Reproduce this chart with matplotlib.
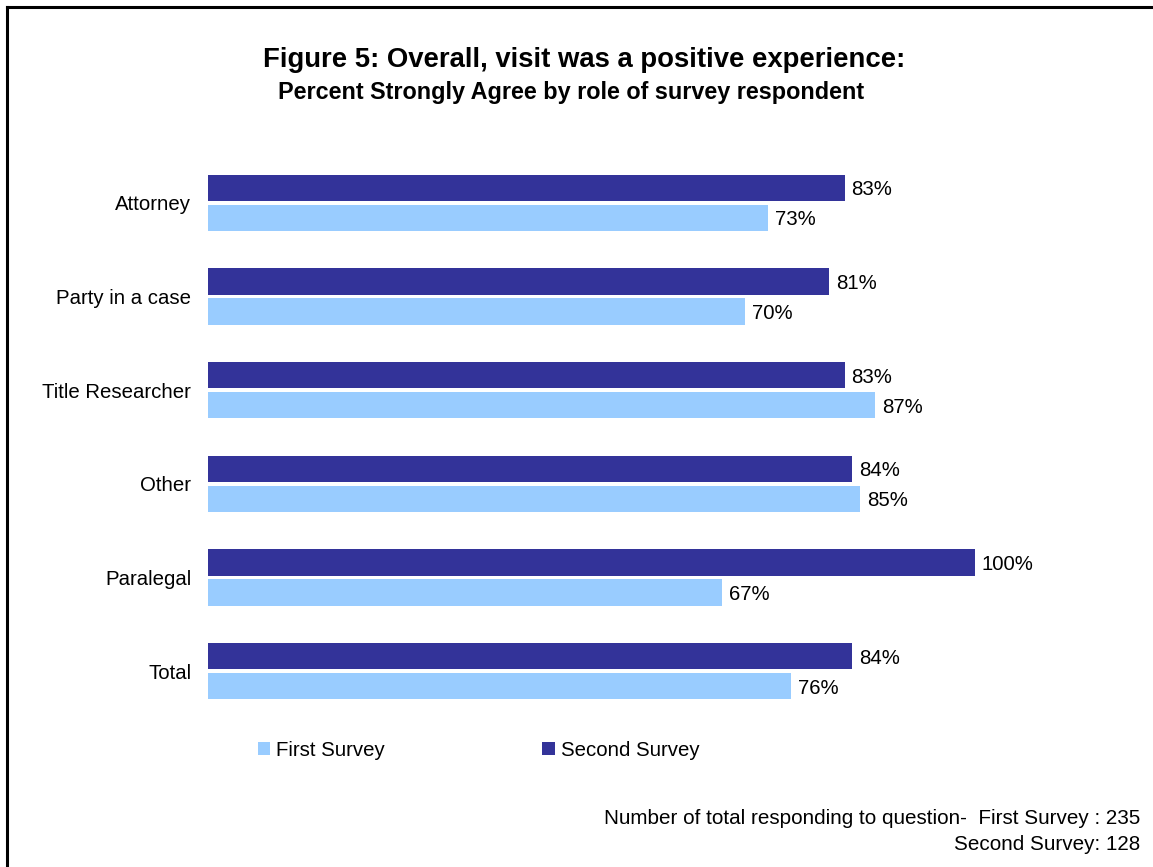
import matplotlib
matplotlib.use("Agg")
import matplotlib.pyplot as plt
from matplotlib.lines import Line2D
from matplotlib.patches import Patch

categories = ["Attorney", "Party in a case", "Title Researcher", "Other", "Paralegal", "Total"]
first_survey = [73, 70, 87, 85, 67, 76]
second_survey = [83, 81, 83, 84, 100, 84]
series_names = ["First Survey", "Second Survey"]
title = "Figure 5: Overall, visit was a positive experience:"
subtitle = "Percent Strongly Agree by role of survey respondent"
footnote = ["Number of total responding to question-  First Survey : 235", "Second Survey: 128"]

plt.rcParams['font.family'] = ['Liberation Sans', 'DejaVu Sans']

W, H = 1153, 867
fig = plt.figure(figsize=(W / 100, H / 100), dpi=100)
fig.patch.set_facecolor("white")

dark = "#333399"
light = "#99CCFF"
fs = 14.7

ax = fig.add_axes([208 / W, 149 / H, 767 / W, 562 / H])
ys = list(range(len(categories)))
bh = 0.278
off = 0.16
ax.barh([y - off for y in ys], second_survey, height=bh, color=dark)
ax.barh([y + off for y in ys], first_survey, height=bh, color=light)
for y, v in zip(ys, second_survey):
    ax.text(v + 0.9, y - off, f"{v}%", va="center_baseline", ha="left", fontsize=fs)
for y, v in zip(ys, first_survey):
    ax.text(v + 0.9, y + off, f"{v}%", va="center_baseline", ha="left", fontsize=fs)
ax.set_xlim(0, 100)
ax.set_ylim(len(categories) - 0.5, -0.5)
ax.set_yticks(ys)
ax.set_yticklabels(categories, fontsize=fs, va="center_baseline")
ax.tick_params(axis="y", length=0, pad=12)
ax.set_xticks([])
for s in ax.spines.values():
    s.set_visible(False)

fig.text(584 / W, 1 - 60 / H, title, ha="center", va="center", fontsize=19.8, fontweight="bold")
fig.text(571 / W, 1 - 92 / H, subtitle, ha="center", va="center", fontsize=16.8, fontweight="bold")

handles = [Patch(facecolor=light, edgecolor="none"), Patch(facecolor=dark, edgecolor="none")]
fig.legend(handles, series_names, loc="center left", bbox_to_anchor=(258 / W, 1 - 750 / H),
           ncol=2, frameon=False, fontsize=fs, handlelength=0.6, handleheight=0.6,
           handletextpad=0.3, columnspacing=7.7, borderaxespad=0, borderpad=0)

fig.text(1140 / W, 1 - 818 / H, footnote[0], ha="right", va="center", fontsize=14.9)
fig.text(1140 / W, 1 - 844 / H, footnote[1], ha="right", va="center", fontsize=14.9)

# border (top and left visible, right/bottom beyond canvas)
fig.add_artist(Line2D([7 / W, 7 / W], [0, 1 - 7 / H], transform=fig.transFigure, color="black", lw=2.2))
fig.add_artist(Line2D([7 / W, 1], [1 - 7 / H, 1 - 7 / H], transform=fig.transFigure, color="black", lw=2.2))

fig.savefig("out.png", dpi=100)
